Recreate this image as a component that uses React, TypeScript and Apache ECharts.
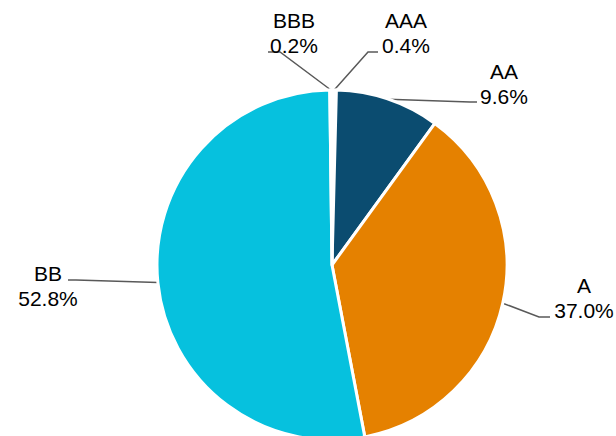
import React, { useEffect, useRef } from "react";
import * as echarts from "echarts";

const categories = ["AAA", "AA", "A", "BB", "BBB"];
const shares = [0.4, 9.6, 37.0, 52.8, 0.2];
const colors = ["#ffffff", "#0B4C70", "#E58100", "#06C1DE", "#ffffff"];

// label text centres and leader-line bend/end points (layout only)
const labelPos: Record<string, { x: number; y: number; pts: number[][] }> = {
  AAA: { x: 406, y: 33, pts: [[368, 52], [378, 52]] },
  AA: { x: 504, y: 84, pts: [[470, 102], [477, 102]] },
  A: { x: 584, y: 298, pts: [[539, 317], [550, 317]] },
  BB: { x: 48, y: 286, pts: [[76, 280], [68, 280]] },
  BBB: { x: 294, y: 33, pts: [[280, 52], [268, 52]] },
};

export default function App() {
  const ref = useRef<HTMLDivElement>(null);
  useEffect(() => {
    if (!ref.current) return;
    const chart = echarts.init(ref.current, undefined, { renderer: "svg" });
    chart.setOption({
      animation: false,
      backgroundColor: "#ffffff",
      series: [
        {
          type: "pie",
          center: [332, 265],
          radius: 175,
          startAngle: 90,
          clockwise: true,
          avoidLabelOverlap: false,
          data: categories.map((c, i) => ({
            name: c,
            value: shares[i],
            itemStyle: { color: colors[i] },
          })),
          itemStyle: { borderColor: "#ffffff", borderWidth: 3 },
          label: {
            show: true,
            position: "outside",
            formatter: (p: any) => `${p.name}\n${Number(p.value).toFixed(1)}%`,
            fontFamily: "Liberation Sans, Arial, sans-serif",
            fontSize: 21,
            lineHeight: 25,
            color: "#000000",
            align: "center",
          },
          labelLine: {
            show: true,
            length: 20,
            length2: 10,
            lineStyle: { color: "#595959", width: 1.5 },
          },
          labelLayout: (params: any) => {
            const name = categories[params.dataIndex];
            const lp = labelPos[name];
            const start = params.labelLinePoints ? params.labelLinePoints[0] : lp.pts[0];
            return {
              x: lp.x,
              y: lp.y,
              align: "center",
              verticalAlign: "middle",
              labelLinePoints: [start, lp.pts[0], lp.pts[1]],
            };
          },
        },
      ],
    });
    return () => chart.dispose();
  }, []);
  return (
    <div
      ref={ref}
      style={{ position: "fixed", left: 0, top: 0, width: 616, height: 436 }}
    />
  );
}
